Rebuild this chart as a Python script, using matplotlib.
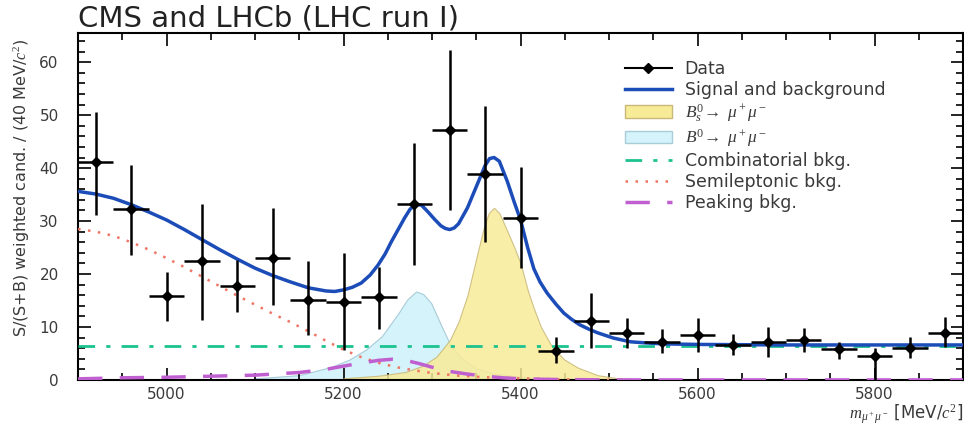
import matplotlib
matplotlib.use('Agg')
import matplotlib.pyplot as plt
from matplotlib.ticker import MultipleLocator
from matplotlib.lines import Line2D
from matplotlib.patches import Patch

plt.rcParams['font.family'] = ['DejaVu Sans']
plt.rcParams['mathtext.fontset'] = 'custom'
plt.rcParams['mathtext.it'] = 'Liberation Serif:italic'
plt.rcParams['mathtext.rm'] = 'Liberation Serif'

# binned data, 40 MeV bins
mass = [4920, 4960, 5000, 5040, 5080, 5120, 5160, 5200, 5240, 5280, 5320,
        5360, 5400, 5440, 5480, 5520, 5560, 5600, 5640, 5680, 5720, 5760,
        5800, 5840, 5880]
counts = [41.1, 32.2, 15.8, 22.4, 17.7, 23.0, 15.0, 14.7, 15.7, 33.2, 47.2,
          38.9, 30.6, 5.5, 11.2, 8.9, 7.2, 8.5, 6.6, 7.1, 7.5, 5.8,
          4.5, 6.1, 8.9]
err_hi = [50.6, 40.5, 20.3, 33.2, 22.6, 32.5, 22.5, 24.0, 21.4, 44.7, 62.3,
          51.7, 40.2, 8.1, 16.5, 11.7, 9.6, 11.6, 8.7, 9.9, 9.8, 7.2,
          6.0, 8.1, 11.8]
err_lo = [31.1, 23.5, 11.2, 11.4, 12.8, 14.2, 8.5, 5.7, 9.6, 21.7, 32.1,
          26.0, 21.1, 3.2, 6.0, 6.1, 5.1, 5.3, 4.7, 4.4, 5.3, 4.0,
          0.0, 4.1, 6.2]
bin_half = 20

# total fit
fit_x = [4900, 4920, 4940, 4960, 4980, 5000, 5020, 5040, 5060, 5080, 5100,
         5120, 5140, 5160, 5180, 5190, 5200, 5210, 5220, 5230, 5239, 5247,
         5254, 5262, 5269, 5275, 5281, 5288, 5295, 5303, 5310, 5315, 5320,
         5325, 5330, 5340, 5350, 5360, 5365, 5370, 5376, 5385, 5393, 5400,
         5408, 5415, 5422, 5430, 5440, 5449, 5458, 5467, 5477, 5487, 5505,
         5524, 5540, 5562, 5600, 5700, 5800, 5900]
fit_y = [35.6, 35.1, 34.3, 33.1, 31.7, 30.2, 28.4, 26.5, 24.6, 22.8, 21.1,
         19.7, 18.5, 17.4, 16.8, 16.7, 17.0, 17.5, 18.3, 19.8, 21.7, 23.8,
         26.1, 28.5, 30.6, 32.2, 33.2, 33.0, 31.8, 30.3, 29.1, 28.6, 28.4,
         28.7, 29.5, 32.5, 36.5, 40.5, 41.8, 42.0, 41.3, 37.5, 33.5, 30.2,
         25.0, 21.0, 18.5, 16.4, 14.3, 12.6, 11.4, 10.4, 9.6, 8.9, 7.9,
         7.2, 7.0, 6.8, 6.7, 6.6, 6.6, 6.6]

# Bs0 -> mu mu component
bs_x = [5200, 5240, 5270, 5290, 5305, 5320, 5330, 5340, 5350, 5358, 5364,
        5370, 5376, 5384, 5393, 5400, 5408, 5415, 5423, 5435, 5449, 5465,
        5487, 5510, 5540]
bs_y = [0.3, 0.8, 1.5, 2.7, 4.4, 7.5, 11.0, 16.0, 23.0, 28.5, 31.5,
        32.5, 31.5, 28.5, 25.0, 22.0, 17.0, 13.5, 10.0, 6.4, 3.9, 2.3,
        0.9, 0.3, 0.0]

# B0 -> mu mu component
b0_x = [5100, 5150, 5187, 5206, 5225, 5243, 5262, 5272, 5282, 5290, 5299,
        5310, 5321, 5335, 5350, 5370, 5400, 5450, 5500]
b0_y = [0.3, 0.9, 2.5, 3.8, 5.7, 8.2, 12.6, 15.2, 16.7, 16.2, 14.5,
        10.4, 6.5, 3.8, 2.2, 1.2, 0.6, 0.2, 0.0]

# backgrounds
comb_x = [4900, 5900]
comb_y = [6.4, 6.4]

semi_x = [4900, 4920, 4940, 4960, 4980, 5000, 5020, 5040, 5060, 5080, 5100,
          5120, 5140, 5160, 5180, 5200, 5220, 5240, 5260, 5280, 5300, 5330,
          5360, 5400, 5450, 5500]
semi_y = [28.5, 28.0, 27.2, 26.0, 24.6, 23.0, 21.3, 19.5, 17.7, 15.9, 14.2,
          12.5, 10.9, 9.2, 7.4, 5.7, 4.3, 3.2, 2.4, 1.8, 1.3, 0.8,
          0.5, 0.3, 0.1, 0.0]

peak_x = [4900, 4950, 5000, 5050, 5100, 5150, 5180, 5200, 5220, 5240, 5255,
          5270, 5285, 5300, 5320, 5340, 5360, 5380, 5400, 5430, 5500, 5900]
peak_y = [0.2, 0.4, 0.5, 0.7, 0.9, 1.4, 2.0, 2.6, 3.2, 3.7, 3.9,
          3.7, 3.1, 2.4, 1.6, 1.1, 0.7, 0.4, 0.2, 0.1, 0.0, 0.0]

c_blue = '#1b4cb8'
c_yellow = '#f8eb98'
c_cyan = '#d4f3fa'
c_green = '#1cc38f'
c_red = '#f07565'
c_magenta = '#c060d0'
c_text = '#3a3a3a'

fig = plt.figure(figsize=(9.64, 4.24), dpi=100)
ax = fig.add_axes([0.081, 0.104, 0.918, 0.818])

ax.fill_between(b0_x, 0, b0_y, facecolor=c_cyan, edgecolor='#a8ccd8',
                linewidth=0.8, zorder=1)
ax.fill_between(bs_x, 0, bs_y, facecolor=c_yellow, edgecolor='#c8b878',
                linewidth=0.8, alpha=0.85, zorder=2)

ax.plot(comb_x, comb_y, color=c_green, lw=2, dashes=(6, 4, 1.5, 4), zorder=3)
ax.plot(semi_x, semi_y, color=c_red, lw=1.8, linestyle=(0, (1, 3)), zorder=3)
ax.plot(peak_x, peak_y, color=c_magenta, lw=2.5, dashes=(7, 5), zorder=3)
ax.plot(fit_x, fit_y, color=c_blue, lw=2.5, zorder=4)

yerr = [[c - lo for c, lo in zip(counts, err_lo)],
        [hi - c for c, hi in zip(counts, err_hi)]]
ax.errorbar(mass, counts, xerr=bin_half, yerr=yerr, fmt='D', color='black',
            ms=5.5, elinewidth=1.8, capsize=0, zorder=5)

ax.set_xlim(4900, 5900)
ax.set_ylim(0, 65.5)
ax.xaxis.set_major_locator(MultipleLocator(200))
ax.xaxis.set_minor_locator(MultipleLocator(50))
ax.yaxis.set_major_locator(MultipleLocator(10))
ax.yaxis.set_minor_locator(MultipleLocator(2))
ax.tick_params(which='both', direction='in', top=True, right=True,
               labelsize=11, labelcolor=c_text, width=1.2)
ax.tick_params(which='major', length=9)
ax.tick_params(which='minor', length=5)
ax.tick_params(axis='x', pad=5)
ax.tick_params(axis='y', pad=14)
for sp in ax.spines.values():
    sp.set_linewidth(1.5)

ax.set_ylabel(r'S/(S+B) weighted cand. / (40 MeV/$c^2$)', fontsize=11.5,
              color=c_text)
ax.yaxis.set_label_coords(-0.052, 0.555)
ax.text(1.0, -0.098, r'$m_{\mu^+\mu^-}$ [MeV/$c^2$]', transform=ax.transAxes,
        ha='right', va='center', fontsize=12, color=c_text)
fig.text(0.081, 0.99, 'CMS and LHCb (LHC run I)', ha='left', va='top',
         fontsize=21, color='#222222')

handles = [
    Line2D([], [], color='black', marker='D', ms=5.5, lw=1.5),
    Line2D([], [], color=c_blue, lw=2.5),
    Patch(facecolor=c_yellow, edgecolor='#c8b878'),
    Patch(facecolor=c_cyan, edgecolor='#a8ccd8'),
    Line2D([], [], color=c_green, lw=2, dashes=(6, 4, 1.5, 4)),
    Line2D([], [], color=c_red, lw=1.8, linestyle=(0, (1, 3))),
    Line2D([], [], color=c_magenta, lw=2.5, dashes=(7, 5)),
]
labels = ['Data', 'Signal and background',
          r'$B^0_s\!\rightarrow\ \mu^+\mu^-$',
          r'$B^0\!\rightarrow\ \mu^+\mu^-$',
          'Combinatorial bkg.', 'Semileptonic bkg.', 'Peaking bkg.']
leg = ax.legend(handles, labels, loc='upper left', bbox_to_anchor=(0.6, 0.968),
                frameon=False, fontsize=12.5, handlelength=2.7,
                labelspacing=0.18, handletextpad=0.75)
for t in leg.get_texts():
    t.set_color(c_text)

fig.savefig('out.png', dpi=100)
